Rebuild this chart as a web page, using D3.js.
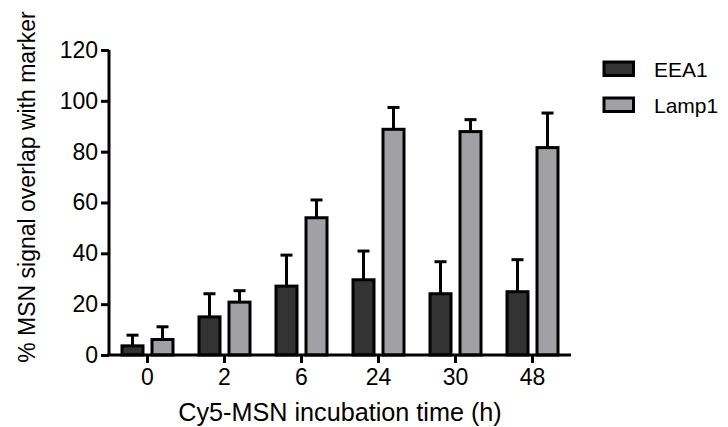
<!DOCTYPE html>
<html>
<head>
  <script src="https://d3js.org/d3.v7.min.js"></script>
  <style>
    body { margin: 0; background: #fff; }
    text { font-family: "Liberation Sans", Arial, sans-serif; fill: #000; }
  </style>
</head>
<body>
  <script>
    // Data
    var times = ["0", "2", "6", "24", "30", "48"];
    var seriesNames = ["EEA1", "Lamp1"];
    var eea1 = [3.6, 15.0, 27.1, 29.6, 24.1, 24.9];
    var eea1Err = [4.2, 9.1, 12.2, 11.3, 12.6, 12.6];
    var lamp1 = [6.1, 20.8, 54.0, 88.8, 87.9, 81.6];
    var lamp1Err = [5.0, 4.5, 7.0, 8.6, 4.7, 13.6];
    var yTicks = [0, 20, 40, 60, 80, 100, 120];
    var colors = ["#333333", "#a1a1a5"];

    var width = 728, height = 427;
    var margin = {top: 50, left: 109, right: 157, bottom: 72};

    var svg = d3.select("body").append("svg")
      .attr("width", width)
      .attr("height", height);

    var x = d3.scaleBand()
      .domain(times)
      .range([margin.left, width - margin.right])
      .padding(0);

    var y = d3.scaleLinear()
      .domain([0, 120])
      .range([height - margin.bottom, margin.top]);

    var offsets = [-15, 15];
    var barW = 21;
    var series = [
      {name: seriesNames[0], vals: eea1, err: eea1Err},
      {name: seriesNames[1], vals: lamp1, err: lamp1Err}
    ];

    // error bars (upward only)
    series.forEach(function(s, si) {
      var g = svg.append("g");
      times.forEach(function(t, i) {
        var cx = x(t) + x.bandwidth() / 2 + offsets[si];
        g.append("line")
          .attr("x1", cx).attr("x2", cx)
          .attr("y1", y(s.vals[i])).attr("y2", y(s.vals[i] + s.err[i]))
          .attr("stroke", "#000").attr("stroke-width", 3);
        g.append("line")
          .attr("x1", cx - 6).attr("x2", cx + 6)
          .attr("y1", y(s.vals[i] + s.err[i])).attr("y2", y(s.vals[i] + s.err[i]))
          .attr("stroke", "#000").attr("stroke-width", 3);
      });
    });

    // bars
    series.forEach(function(s, si) {
      svg.append("g").selectAll("rect")
        .data(s.vals)
        .enter().append("rect")
        .attr("x", function(d, i) { return x(times[i]) + x.bandwidth() / 2 + offsets[si] - barW / 2; })
        .attr("y", function(d) { return y(d); })
        .attr("width", barW)
        .attr("height", function(d) { return y(0) - y(d); })
        .attr("fill", colors[si])
        .attr("stroke", "#000")
        .attr("stroke-width", 3);
    });

    // axes
    var yAxis = svg.append("g")
      .attr("transform", "translate(" + margin.left + ",0)")
      .call(d3.axisLeft(y).tickValues(yTicks).tickSize(8).tickPadding(3));
    var xAxis = svg.append("g")
      .attr("transform", "translate(0," + y(0) + ")")
      .call(d3.axisBottom(x).tickSize(8).tickPadding(6));

    [yAxis, xAxis].forEach(function(a) {
      a.select(".domain").attr("stroke", "#000").attr("stroke-width", 3);
      a.selectAll(".tick line").attr("stroke", "#000").attr("stroke-width", 3);
      a.selectAll("text").style("font-size", "23px").attr("fill", "#000");
    });
    // square ends for axes
    yAxis.select(".domain").attr("d", "M0," + y(120) + "V" + y(0));
    xAxis.select(".domain").attr("d", "M" + (margin.left - 1.5) + ",0H" + (width - margin.right));

    // axis titles
    svg.append("text")
      .attr("transform", "translate(35,187) rotate(-90)")
      .attr("text-anchor", "middle")
      .style("font-size", "23px")
      .text("% MSN signal overlap with marker");

    svg.append("text")
      .attr("x", 340)
      .attr("y", 421)
      .attr("text-anchor", "middle")
      .style("font-size", "25.2px")
      .text("Cy5-MSN incubation time (h)");

    // legend
    var legend = svg.append("g").attr("transform", "translate(604,62)");
    seriesNames.forEach(function(n, i) {
      legend.append("rect")
        .attr("x", 0).attr("y", i * 36)
        .attr("width", 29.5).attr("height", 13.5)
        .attr("fill", colors[i])
        .attr("stroke", "#000").attr("stroke-width", 3);
      legend.append("text")
        .attr("x", 50).attr("y", i * 36 + 15)
        .style("font-size", "21px")
        .text(n);
    });
  </script>
</body>
</html>
